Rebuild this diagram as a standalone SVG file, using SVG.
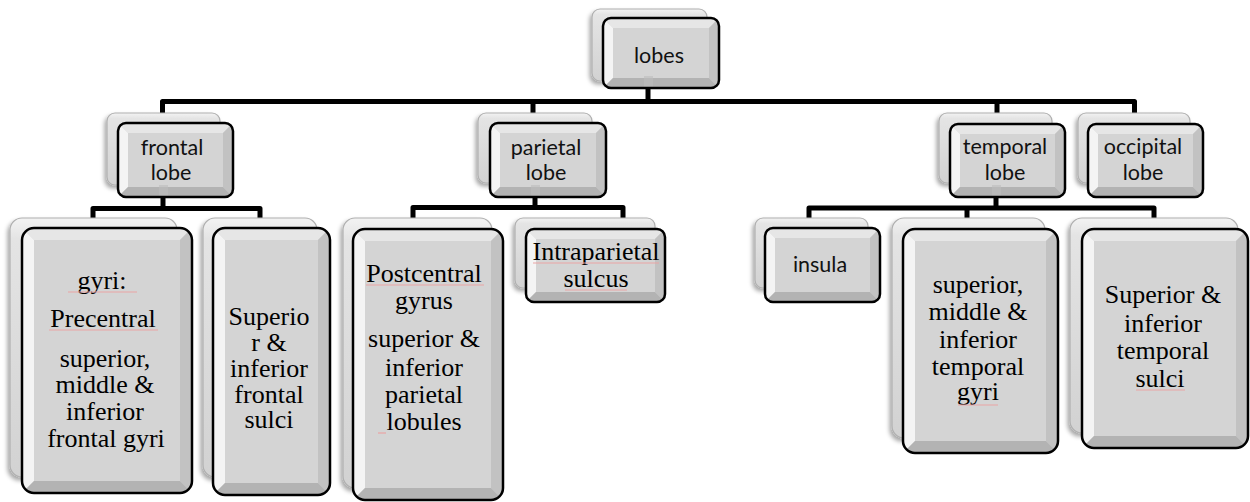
<svg xmlns="http://www.w3.org/2000/svg" width="1250" height="502" viewBox="0 0 1250 502">
<style>
.bk{fill:url(#bg);stroke:#b0b0b0;stroke-width:1.2;filter:url(#sh)}
.fc{fill:#d4d4d4}
.bt{fill:#e6e6e6}
.bl{fill:#f4f4f4}
.br{fill:#c2c2c2}
.bb{fill:#b3b3b3}
.ol{fill:none;stroke:#000;stroke-width:2.5}
.cal{font-family:Lato,"Open Sans",sans-serif;font-size:21.5px;fill:#111;text-anchor:middle}
.tnr{font-family:"Liberation Serif","Times New Roman",serif;font-size:26px;fill:#000;text-anchor:middle}
.con{fill:none;stroke:#000;stroke-width:5;stroke-linejoin:round}
.sp{stroke:#e9a3a3;stroke-width:1.2}
.gl{fill:#bdbdbd;opacity:.6}
</style>
<defs>
<linearGradient id="bg" x1="0" y1="0" x2="0" y2="1">
<stop offset="0" stop-color="#f3f3f3"/><stop offset="0.08" stop-color="#e4e4e4"/><stop offset="1" stop-color="#d2d2d2"/>
</linearGradient>
<filter id="sh" x="-20%" y="-20%" width="140%" height="140%">
<feDropShadow dx="-2" dy="3" stdDeviation="2" flood-color="#000" flood-opacity="0.35"/>
</filter>
<clipPath id="c1"><rect x="603" y="18" width="116" height="70" rx="8"/></clipPath>
<clipPath id="c2"><rect x="118" y="123" width="115" height="74" rx="8"/></clipPath>
<clipPath id="c3"><rect x="490" y="123" width="116" height="74" rx="8"/></clipPath>
<clipPath id="c4"><rect x="950" y="124" width="115" height="73" rx="8"/></clipPath>
<clipPath id="c5"><rect x="1088" y="124" width="115" height="73" rx="8"/></clipPath>
<clipPath id="c6"><rect x="22" y="228" width="170" height="265" rx="12"/></clipPath>
<clipPath id="c7"><rect x="213" y="228" width="117" height="267" rx="12"/></clipPath>
<clipPath id="c8"><rect x="353" y="229" width="150" height="271" rx="12"/></clipPath>
<clipPath id="c9"><rect x="526" y="229" width="139" height="73" rx="8"/></clipPath>
<clipPath id="c10"><rect x="765" y="228" width="115" height="74" rx="8"/></clipPath>
<clipPath id="c11"><rect x="903" y="229" width="155" height="224" rx="12"/></clipPath>
<clipPath id="c12"><rect x="1082" y="229" width="166" height="219" rx="12"/></clipPath>
</defs>
<rect width="1250" height="502" fill="#fff"/>

<g id="connectors">
<path class="con" d="M648,88 V101.5"/>
<path class="con" d="M162.5,113 V101.5 H1134.5 V113"/>
<path class="con" d="M533,101.5 V113"/>
<path class="con" d="M997,101.5 V113"/>
<path class="con" d="M163,197 V208.5"/>
<path class="con" d="M93,218 V208.5 H260 V218"/>
<path class="con" d="M535,197 V207.5"/>
<path class="con" d="M413,218 V207.5 H623 V218"/>
<path class="con" d="M996,197 V208"/>
<path class="con" d="M809,218 V208 H1154 V218"/>
<path class="con" d="M967,208 V218"/>
</g>

<g id="node-lobes">
<rect class="bk" x="592" y="9" width="115" height="72" rx="8"/>
<g clip-path="url(#c1)">
<rect class="fc" x="603" y="18" width="116" height="70"/>
<polygon class="bt" points="603,18 719,18 709,28 613,28"/>
<polygon class="bl" points="603,18 613,28 613,78 603,88"/>
<polygon class="br" points="719,18 719,88 709,78 709,28"/>
<polygon class="bb" points="603,88 719,88 709,78 613,78"/>
<rect class="gl" x="644" y="76" width="9" height="12"/>
</g>
<rect class="ol" x="603" y="18" width="116" height="70" rx="8"/>
<text class="cal" x="659" y="63">lobes</text>
</g>

<g id="node-frontal">
<rect class="bk" x="107" y="113" width="113" height="72" rx="8"/>
<g clip-path="url(#c2)">
<rect class="fc" x="118" y="123" width="115" height="74"/>
<polygon class="bt" points="118,123 233,123 223,133 128,133"/>
<polygon class="bl" points="118,123 128,133 128,187 118,197"/>
<polygon class="br" points="233,123 233,197 223,187 223,133"/>
<polygon class="bb" points="118,197 233,197 223,187 128,187"/>
<rect class="gl" x="159" y="185" width="9" height="12"/>
</g>
<rect class="ol" x="118" y="123" width="115" height="74" rx="8"/>
<text class="cal" x="172" y="155">frontal</text>
<text class="cal" x="171" y="180">lobe</text>
</g>

<g id="node-parietal">
<rect class="bk" x="478" y="113" width="114" height="70" rx="8"/>
<g clip-path="url(#c3)">
<rect class="fc" x="490" y="123" width="116" height="74"/>
<polygon class="bt" points="490,123 606,123 596,133 500,133"/>
<polygon class="bl" points="490,123 500,133 500,187 490,197"/>
<polygon class="br" points="606,123 606,197 596,187 596,133"/>
<polygon class="bb" points="490,197 606,197 596,187 500,187"/>
<rect class="gl" x="531" y="185" width="9" height="12"/>
</g>
<rect class="ol" x="490" y="123" width="116" height="74" rx="8"/>
<text class="cal" x="546" y="155">parietal</text>
<text class="cal" x="546" y="180">lobe</text>
</g>

<g id="node-temporal">
<rect class="bk" x="939" y="113" width="113" height="70" rx="8"/>
<g clip-path="url(#c4)">
<rect class="fc" x="950" y="124" width="115" height="73"/>
<polygon class="bt" points="950,124 1065,124 1055,134 960,134"/>
<polygon class="bl" points="950,124 960,134 960,187 950,197"/>
<polygon class="br" points="1065,124 1065,197 1055,187 1055,134"/>
<polygon class="bb" points="950,197 1065,197 1055,187 960,187"/>
<rect class="gl" x="992" y="185" width="9" height="12"/>
</g>
<rect class="ol" x="950" y="124" width="115" height="73" rx="8"/>
<text class="cal" x="1005" y="154">temporal</text>
<text class="cal" x="1005" y="180">lobe</text>
</g>

<g id="node-occipital">
<rect class="bk" x="1078" y="113" width="112" height="70" rx="8"/>
<g clip-path="url(#c5)">
<rect class="fc" x="1088" y="124" width="115" height="73"/>
<polygon class="bt" points="1088,124 1203,124 1193,134 1098,134"/>
<polygon class="bl" points="1088,124 1098,134 1098,187 1088,197"/>
<polygon class="br" points="1203,124 1203,197 1193,187 1193,134"/>
<polygon class="bb" points="1088,197 1203,197 1193,187 1098,187"/>
</g>
<rect class="ol" x="1088" y="124" width="115" height="73" rx="8"/>
<text class="cal" x="1143" y="154">occipital</text>
<text class="cal" x="1143" y="180">lobe</text>
</g>

<g id="node-frontal-gyri">
<rect class="bk" x="10" y="218" width="167" height="259" rx="12"/>
<g clip-path="url(#c6)">
<rect class="fc" x="22" y="228" width="170" height="265"/>
<polygon class="bt" points="22,228 192,228 180,240 34,240"/>
<polygon class="bl" points="22,228 34,240 34,481 22,493"/>
<polygon class="br" points="192,228 192,493 180,481 180,240"/>
<polygon class="bb" points="22,493 192,493 180,481 34,481"/>
</g>
<rect class="ol" x="22" y="228" width="170" height="265" rx="12"/>
<text class="tnr" x="102" y="289">gyri:</text>
<line class="sp" x1="68" y1="292" x2="137" y2="292"/>
<text class="tnr" x="103" y="327">Precentral</text>
<line class="sp" x1="49" y1="330" x2="158" y2="330"/>
<text class="tnr" x="105" y="367">superior,</text>
<text class="tnr" x="105" y="393">middle &amp;</text>
<text class="tnr" x="105" y="420">inferior</text>
<text class="tnr" x="106" y="447">frontal gyri</text>
</g>

<g id="node-frontal-sulci">
<rect class="bk" x="203" y="218" width="114" height="259" rx="12"/>
<g clip-path="url(#c7)">
<rect class="fc" x="213" y="228" width="117" height="267"/>
<polygon class="bt" points="213,228 330,228 318,240 225,240"/>
<polygon class="bl" points="213,228 225,240 225,483 213,495"/>
<polygon class="br" points="330,228 330,495 318,483 318,240"/>
<polygon class="bb" points="213,495 330,495 318,483 225,483"/>
</g>
<rect class="ol" x="213" y="228" width="117" height="267" rx="12"/>
<text class="tnr" x="269" y="325">Superio</text>
<text class="tnr" x="269" y="351">r &amp;</text>
<text class="tnr" x="269" y="377">inferior</text>
<text class="tnr" x="269" y="403">frontal</text>
<text class="tnr" x="269" y="428">sulci</text>
</g>

<g id="node-postcentral">
<rect class="bk" x="343" y="218" width="149" height="270" rx="12"/>
<g clip-path="url(#c8)">
<rect class="fc" x="353" y="229" width="150" height="271"/>
<polygon class="bt" points="353,229 503,229 491,241 365,241"/>
<polygon class="bl" points="353,229 365,241 365,488 353,500"/>
<polygon class="br" points="503,229 503,500 491,488 491,241"/>
<polygon class="bb" points="353,500 503,500 491,488 365,488"/>
</g>
<rect class="ol" x="353" y="229" width="150" height="271" rx="12"/>
<text class="tnr" x="424" y="282">Postcentral</text>
<line class="sp" x1="366" y1="285" x2="484" y2="285"/>
<text class="tnr" x="424" y="309">gyrus</text>
<text class="tnr" x="424" y="347">superior &amp;</text>
<text class="tnr" x="424" y="376">inferior</text>
<text class="tnr" x="424" y="403">parietal</text>
<text class="tnr" x="424" y="430">lobules</text>
<line class="sp" x1="378" y1="433" x2="386" y2="433"/>
</g>

<g id="node-intraparietal">
<rect class="bk" x="515" y="218" width="140" height="70" rx="8"/>
<g clip-path="url(#c9)">
<rect class="fc" x="526" y="229" width="139" height="73"/>
<polygon class="bt" points="526,229 665,229 655,239 536,239"/>
<polygon class="bl" points="526,229 536,239 536,292 526,302"/>
<polygon class="br" points="665,229 665,302 655,292 655,239"/>
<polygon class="bb" points="526,302 665,302 655,292 536,292"/>
</g>
<rect class="ol" x="526" y="229" width="139" height="73" rx="8"/>
<text class="tnr" x="596" y="260">Intraparietal</text>
<line class="sp" x1="533" y1="263" x2="659" y2="263"/>
<text class="tnr" x="596" y="287">sulcus</text>
<line class="sp" x1="565" y1="290" x2="627" y2="290"/>
</g>

<g id="node-insula">
<rect class="bk" x="755" y="218" width="113" height="70" rx="8"/>
<g clip-path="url(#c10)">
<rect class="fc" x="765" y="228" width="115" height="74"/>
<polygon class="bt" points="765,228 880,228 870,238 775,238"/>
<polygon class="bl" points="765,228 775,238 775,292 765,302"/>
<polygon class="br" points="880,228 880,302 870,292 870,238"/>
<polygon class="bb" points="765,302 880,302 870,292 775,292"/>
</g>
<rect class="ol" x="765" y="228" width="115" height="74" rx="8"/>
<text class="cal" x="820" y="272">insula</text>
</g>

<g id="node-temporal-gyri">
<rect class="bk" x="892" y="218" width="153" height="220" rx="12"/>
<g clip-path="url(#c11)">
<rect class="fc" x="903" y="229" width="155" height="224"/>
<polygon class="bt" points="903,229 1058,229 1046,241 915,241"/>
<polygon class="bl" points="903,229 915,241 915,441 903,453"/>
<polygon class="br" points="1058,229 1058,453 1046,441 1046,241"/>
<polygon class="bb" points="903,453 1058,453 1046,441 915,441"/>
</g>
<rect class="ol" x="903" y="229" width="155" height="224" rx="12"/>
<text class="tnr" x="978" y="293">superior,</text>
<text class="tnr" x="978" y="320">middle &amp;</text>
<text class="tnr" x="978" y="348">inferior</text>
<text class="tnr" x="978" y="375">temporal</text>
<text class="tnr" x="978" y="400">gyri</text>
<line class="sp" x1="958" y1="405" x2="998" y2="405"/>
</g>

<g id="node-temporal-sulci">
<rect class="bk" x="1070" y="218" width="168" height="215" rx="12"/>
<g clip-path="url(#c12)">
<rect class="fc" x="1082" y="229" width="166" height="219"/>
<polygon class="bt" points="1082,229 1248,229 1236,241 1094,241"/>
<polygon class="bl" points="1082,229 1094,241 1094,436 1082,448"/>
<polygon class="br" points="1248,229 1248,448 1236,436 1236,241"/>
<polygon class="bb" points="1082,448 1248,448 1236,436 1094,436"/>
</g>
<rect class="ol" x="1082" y="229" width="166" height="219" rx="12"/>
<text class="tnr" x="1163" y="303">Superior &amp;</text>
<text class="tnr" x="1163" y="332">inferior</text>
<text class="tnr" x="1163" y="359">temporal</text>
<text class="tnr" x="1160" y="387">sulci</text>
<line class="sp" x1="1136" y1="390" x2="1185" y2="390"/>
</g>
</svg>
